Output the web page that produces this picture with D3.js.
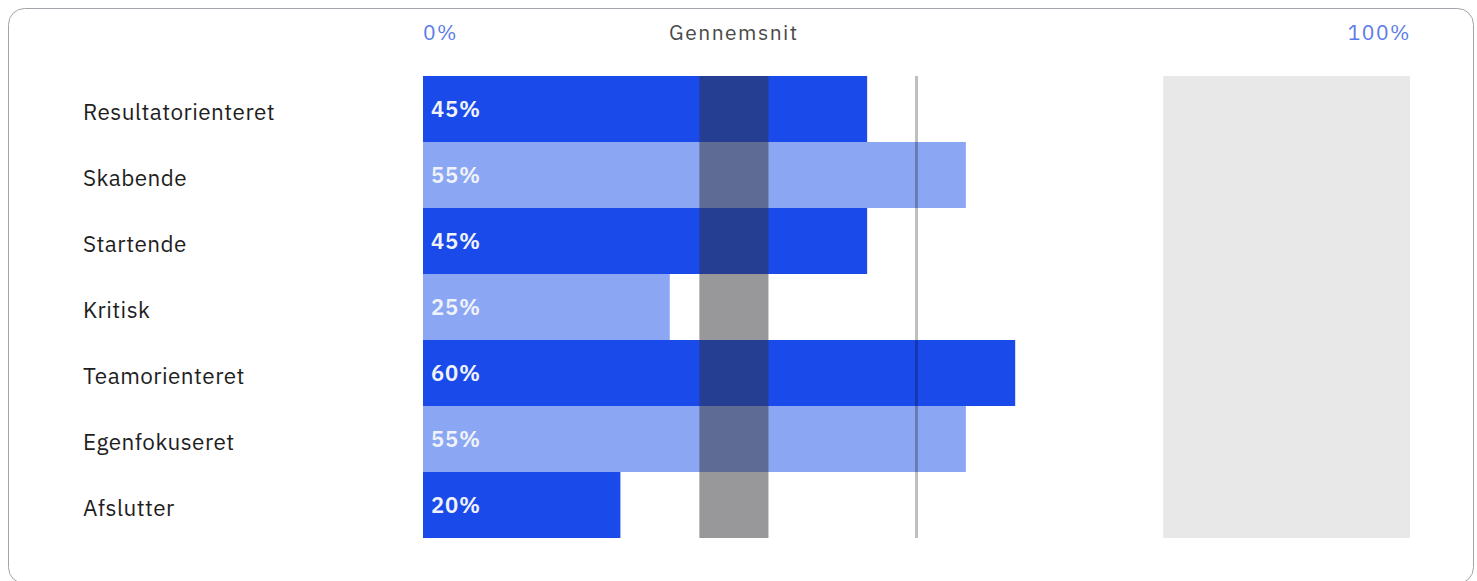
<!DOCTYPE html>
<html>
<head>
<meta charset="utf-8">
<script src="https://cdn.jsdelivr.net/npm/d3@7"></script>
<style>
  body { margin: 0; background: #fff; }
  svg { display: block; }
</style>
</head>
<body>
<div id="chart"></div>
<script>
// data
const categories = ["Resultatorienteret", "Skabende", "Startende", "Kritisk", "Teamorienteret", "Egenfokuseret", "Afslutter"];
const values = [45, 55, 45, 25, 60, 55, 20];
const avgBand = [28, 35];     // "Gennemsnit" range
const refLine = 50;           // vertical line
const topZone = [75, 100];    // light grey zone
const axisLabels = ["0%", "100%"];

const width = 1477, height = 581;
const margin = {left: 423, right: 67, top: 76, bottom: 43};

const svg = d3.select("#chart").append("svg")
  .attr("width", width)
  .attr("height", height);

// card
svg.append("rect")
  .attr("x", 8.5).attr("y", 8.5)
  .attr("width", 1465).attr("height", 575)
  .attr("rx", 16)
  .attr("fill", "#fff")
  .attr("stroke", "#a3a3ab")
  .attr("stroke-width", 1);

const x = d3.scaleLinear().domain([0, 100]).range([margin.left, width - margin.right]);
const y = d3.scaleBand().domain(categories).range([margin.top, height - margin.bottom]).padding(0);

const font = "'IBM Plex Sans', Inter, 'Noto Sans', sans-serif";

// grey zone behind bars
svg.append("rect")
  .attr("x", x(topZone[0]))
  .attr("y", y.range()[0])
  .attr("width", x(topZone[1]) - x(topZone[0]))
  .attr("height", y.range()[1] - y.range()[0])
  .attr("fill", "#e8e8e8");

// bars
svg.append("g").selectAll("rect")
  .data(values)
  .join("rect")
  .attr("x", x(0))
  .attr("y", (d, i) => y(categories[i]))
  .attr("width", d => x(d) - x(0))
  .attr("height", y.bandwidth())
  .attr("fill", (d, i) => i % 2 === 0 ? "#1a4bea" : "#8ba6f3");

// average band
svg.append("rect")
  .attr("x", x(avgBand[0]))
  .attr("y", y.range()[0])
  .attr("width", x(avgBand[1]) - x(avgBand[0]))
  .attr("height", y.range()[1] - y.range()[0])
  .attr("fill", "rgb(50,50,56)")
  .attr("fill-opacity", 0.5);

// 50% line
svg.append("line")
  .attr("x1", x(refLine)).attr("x2", x(refLine))
  .attr("y1", y.range()[0]).attr("y2", y.range()[1])
  .attr("stroke", "#000")
  .attr("stroke-opacity", 0.25)
  .attr("stroke-width", 3);

// value labels
svg.append("g").selectAll("text")
  .data(values)
  .join("text")
  .attr("x", x(0) + 8)
  .attr("y", (d, i) => y(categories[i]) + y.bandwidth() / 2)
  .attr("dy", "0.35em")
  .attr("font-family", font)
  .attr("font-weight", 600)
  .attr("font-size", 22)
  .attr("letter-spacing", 0.8)
  .attr("fill", "#f0f3fb")
  .text(d => d + "%");

// category labels
svg.append("g").selectAll("text")
  .data(categories)
  .join("text")
  .attr("x", 83)
  .attr("y", d => y(d) + y.bandwidth() / 2 + 3)
  .attr("dy", "0.35em")
  .attr("font-family", font)
  .attr("font-size", 22.5)
  .attr("letter-spacing", 0.45)
  .attr("fill", "#1e1e1e")
  .text(d => d);

// top labels
const topLabel = (xp, anchor, color, txt) => svg.append("text")
  .attr("x", xp)
  .attr("y", 40)
  .attr("text-anchor", anchor)
  .attr("font-family", font)
  .attr("font-size", 21)
  .attr("letter-spacing", 1.5)
  .attr("fill", color)
  .text(txt);

topLabel(x(0), "start", "#5a7be8", axisLabels[0]);
topLabel(x(100) + 1, "end", "#5a7be8", axisLabels[1]);
topLabel(x((avgBand[0] + avgBand[1]) / 2), "middle", "#4a4a4a", "Gennemsnit");
</script>
</body>
</html>
